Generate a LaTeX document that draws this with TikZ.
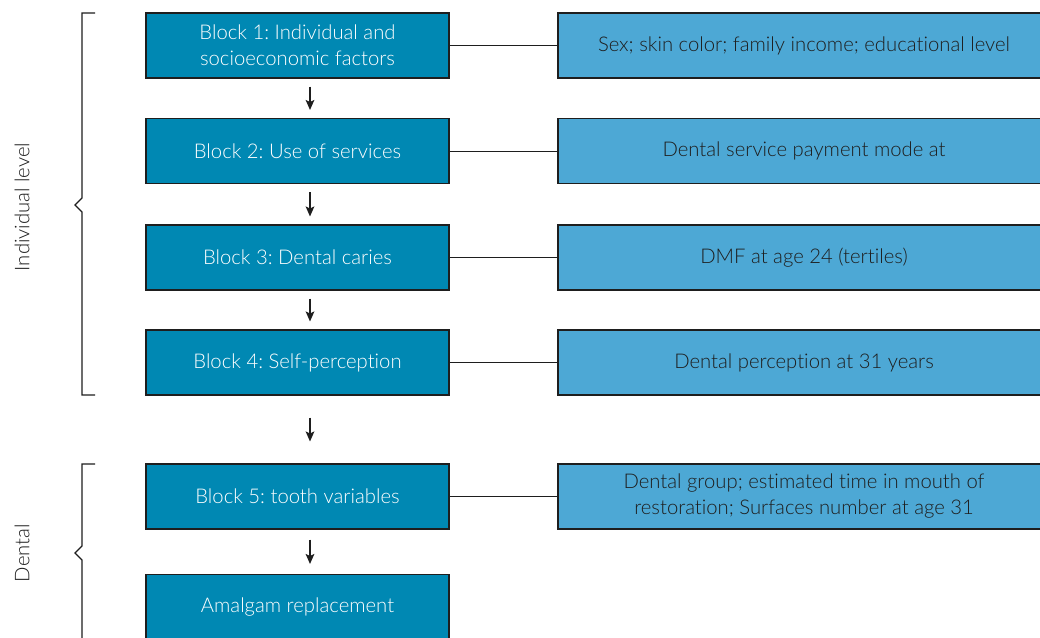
\documentclass[tikz,border=0pt]{standalone}
\usepackage{fontspec}
\setmainfont{Lato Light}[Ligatures=NoCommon]
\usepackage{xcolor}
\definecolor{BlockBlue}{HTML}{0088B3}
\definecolor{VarBlue}{HTML}{4DA8D5}
\definecolor{EdgeInk}{HTML}{1E1E1E}
\usetikzlibrary{arrows.meta}
\frenchspacing

\begin{document}
\begin{tikzpicture}[x=0.75pt,y=-0.75pt,
  every node/.style={font=\fontsize{15.2}{19.5}\selectfont},
  blk/.style={draw=EdgeInk,line width=0.8pt,fill=BlockBlue,text=white,minimum width=227.25pt,minimum height=48.75pt,align=center,inner sep=0pt},
  var/.style={draw=EdgeInk,line width=0.8pt,fill=VarBlue,text=EdgeInk,minimum width=369pt,minimum height=48.75pt,align=center,inner sep=0pt},
  arr/.style={-{Stealth[length=7.5pt,width=6.5pt,inset=1.5pt]},EdgeInk,line width=0.8pt}]
\fill[white] (0,0) rectangle (1040,638);
\useasboundingbox (0,0) rectangle (1040,638);
\coordinate (ax) at (310,0);
% blocks
\node[blk] (b1) at (297.5,45.5) {Block 1: Individual and\\socioeconomic factors};
\node[blk] (b2) at (297.5,151) {Block 2: Use of services};
\node[blk] (b3) at (297.5,257.5) {Block 3: Dental caries};
\node[blk] (b4) at (297.5,362.5) {Block 4: Self-perception};
\node[blk] (b5) at (297.5,496.5) {Block 5: tooth variables};
\node[blk] (b6) at (297.5,607) {Amalgam replacement};
% variables
\node[var] (v1) at (804,45.5) {Sex; skin color; family income; educational level};
\node[var] (v2) at (804,151) {Dental service payment mode at};
\node[var] (v3) at (804,257.5) {DMF at age 24 (tertiles)};
\node[var] (v4) at (804,362.5) {Dental perception at 31 years};
\node[var] (v5) at (804,496.5) {Dental group; estimated time in mouth of\\restoration; Surfaces number at age 31};
\foreach \i in {1,...,5} \draw[EdgeInk,line width=0.7pt] (b\i.east)--(v\i.west);
% arrows
\draw[arr,shorten <=6pt,shorten >=6pt] (b1.south -| ax)--(b2.north -| ax);
\draw[arr,shorten <=6pt,shorten >=6pt] (b2.south -| ax)--(b3.north -| ax);
\draw[arr,shorten <=6pt,shorten >=6pt] (b3.south -| ax)--(b4.north -| ax);
\draw[arr,shorten <=16.5pt,shorten >=16.5pt] (b4.south -| ax)--(b5.north -| ax);
\draw[arr,shorten <=7.5pt,shorten >=7.5pt] (b5.south -| ax)--(b6.north -| ax);
% brackets
\draw[EdgeInk,line width=0.8pt] (95,13)--(82,13)--(82,198)--(75,205)--(82,212)--(82,395)--(95,395);
\draw[EdgeInk,line width=0.8pt] (95,464)--(82,464)--(82,546)--(75,553)--(82,560)--(82,645);
\node[rotate=90,text=EdgeInk] (lv1) at (22,207) {Individual level};
\node[rotate=90,text=EdgeInk] (lv2) at (22,553) {Dental};
\end{tikzpicture}
\end{document}
